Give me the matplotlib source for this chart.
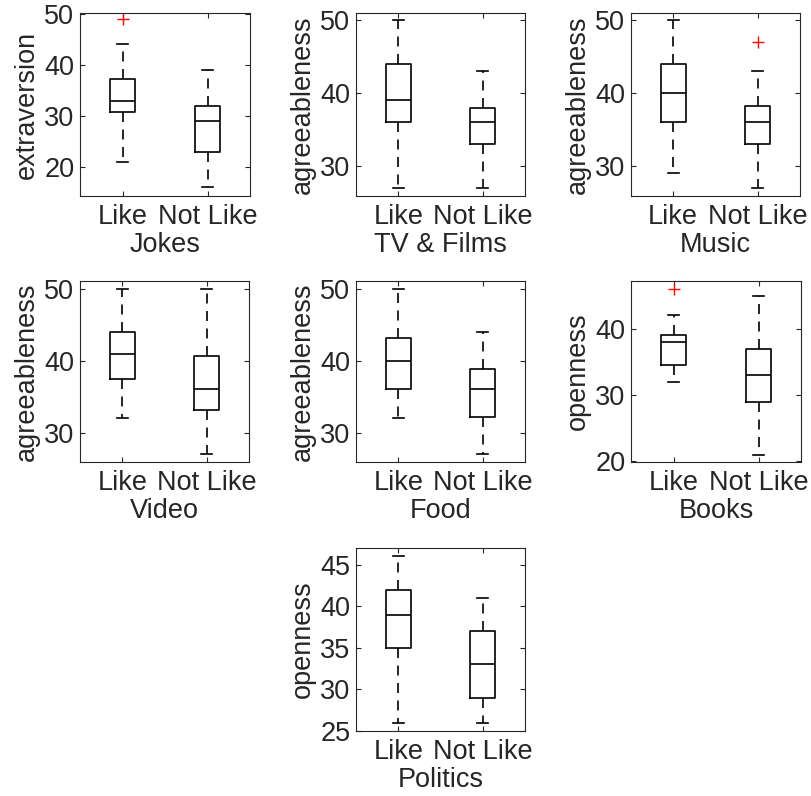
import matplotlib
matplotlib.use('Agg')
import matplotlib.pyplot as plt

plt.rcParams['font.family'] = ['Liberation Sans', 'DejaVu Sans']
plt.rcParams['font.size'] = 19.5

# data (MATLAB style boxplots)
groups = ['Jokes', 'TV & Films', 'Music', 'Video', 'Food', 'Books', 'Politics']
traits = ['extraversion', 'agreeableness', 'agreeableness', 'agreeableness',
          'agreeableness', 'openness', 'openness']
xticklabels = ['Like', 'Not Like']

like_whislo = [21, 27, 29, 32, 32, 32, 26]
like_q1 = [30.7, 36, 36, 37.5, 36, 34.5, 35]
like_med = [33, 39, 40, 41, 40, 38, 39]
like_q3 = [37.2, 44, 44, 44, 43.2, 39, 42]
like_whishi = [44, 50, 50, 50, 50, 42, 46]
like_fliers = [[49], [], [], [], [], [46], []]

notlike_whislo = [16, 27, 27, 27, 27, 21, 26]
notlike_q1 = [23, 33, 33, 33.2, 32.2, 29, 29]
notlike_med = [29, 36, 36, 36, 36, 33, 33]
notlike_q3 = [32, 38, 38.2, 40.7, 38.9, 37, 37]
notlike_whishi = [39, 43, 43, 50, 44, 45, 41]
notlike_fliers = [[], [], [47], [], [], [], []]

ylims = [(14.3, 50.15), (25.86, 51.01), (25.86, 51.01), (25.9, 51.1),
         (25.9, 51.1), (19.9, 47.2), (25, 47)]
yticks = [[20, 30, 40, 50], [30, 40, 50], [30, 40, 50], [30, 40, 50],
          [30, 40, 50], [20, 30, 40], [25, 30, 35, 40, 45]]

W, H = 811, 796
# axes boxes in pixels: left, top, right, bottom
boxes = [(80, 13, 250, 196), (356, 13, 525, 196), (631, 13, 800, 196),
         (80, 281, 249, 462), (356, 281, 525, 462), (631, 281, 801, 462),
         (356, 548, 525, 731)]

fig = plt.figure(figsize=(W / 100, H / 100), dpi=100)
dark = '#262626'

for i in range(len(groups)):
    l, t, r, b = boxes[i]
    ax = fig.add_axes([l / W, 1 - b / H, (r - l) / W, (b - t) / H])
    stats = [
        dict(whislo=like_whislo[i], q1=like_q1[i], med=like_med[i],
             q3=like_q3[i], whishi=like_whishi[i], fliers=like_fliers[i]),
        dict(whislo=notlike_whislo[i], q1=notlike_q1[i], med=notlike_med[i],
             q3=notlike_q3[i], whishi=notlike_whishi[i], fliers=notlike_fliers[i]),
    ]
    ax.bxp(stats, positions=[1, 2], widths=0.3, capwidths=0.13,
           boxprops=dict(color='black', linewidth=1.2),
           medianprops=dict(color='black', linewidth=1.2),
           whiskerprops=dict(color='black', linewidth=1.2, linestyle=(0, (6, 4.5))),
           capprops=dict(color='black', linewidth=1.2),
           flierprops=dict(marker='+', markeredgecolor='red', markersize=8,
                           markeredgewidth=1.0, linestyle='none'))
    ax.set_xlim(0.5, 2.5)
    ax.set_ylim(*ylims[i])
    ax.set_yticks(yticks[i])
    ax.set_xticks([1, 2])
    ax.set_xticklabels(xticklabels)
    ax.tick_params(direction='in', top=True, right=True, length=3.5,
                   width=0.8, colors=dark, labelcolor=dark, pad=4)
    ax.tick_params(axis='x', pad=6)
    for s in ax.spines.values():
        s.set_color(dark)
        s.set_linewidth(0.8)
    ax.set_ylabel(traits[i], color=dark, labelpad=3)
    ax.set_xlabel(groups[i], color=dark, labelpad=1)

fig.savefig('out.png', dpi=100)
